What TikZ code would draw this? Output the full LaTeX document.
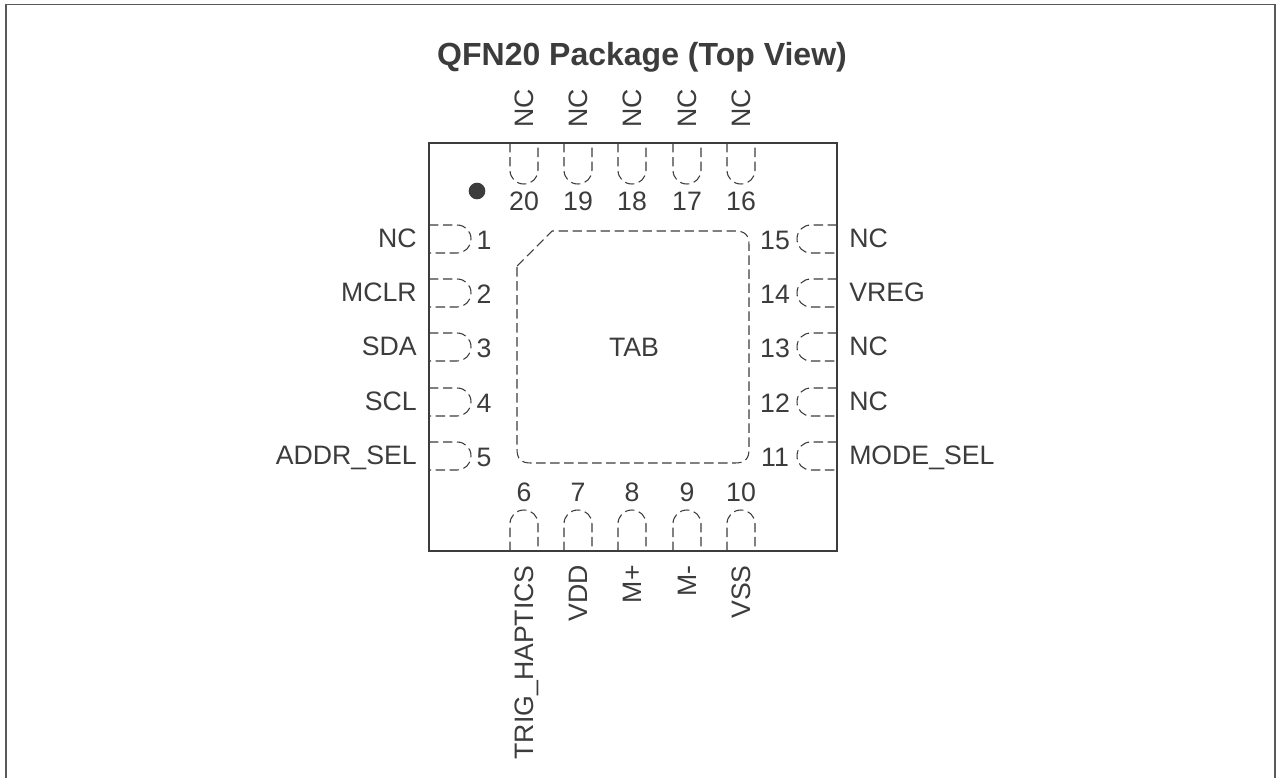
\documentclass[tikz,border=0pt]{standalone}
\usepackage{fontspec}
\setmainfont{Liberation Sans}
\definecolor{ink}{HTML}{3C3C3C}
\tikzset{
  lbl/.style={text=ink,font=\fontsize{20}{24}\selectfont,inner sep=0pt,text height=14.3pt,text depth=0pt},
  pad/.style={draw=ink,line width=0.8pt,dash pattern=on 7pt off 3.5pt},
  solidline/.style={draw=ink,line width=0.85pt}
}
\begin{document}
\begin{tikzpicture}[x=0.75pt,y=-0.75pt]
\useasboundingbox (0,0) rectangle (1276,778);
\draw[solidline,line width=1.1pt,draw=ink!85] (6,778) -- (6,4.5) -- (1275,4.5) -- (1275,778);
\node[lbl,font=\fontsize{24}{28}\selectfont\bfseries,text height=17.2pt] (title) at (642,54) {QFN20 Package (Top View)};
\node[solidline,minimum width=306pt,minimum height=306pt,inner sep=0pt] (chip) at (633,347) {};
\node[circle,fill=ink,minimum size=12.5pt,inner sep=0pt] (dot) at (477,191) {};
\node[lbl] (tab) at (634,347) {TAB};
\draw[pad] (517,266) -- (552,231) -- (735,231) .. controls (745,231) and (749,235) .. (749,245) -- (749,449) .. controls (749,459) and (745,463) .. (735,463) -- (531,463) .. controls (521,463) and (517,459) .. (517,449) -- cycle;
% top pads
\foreach \x/\n in {524/20,578/19,632/18,687/17,741/16}{
  \draw[pad] (\x-14,143) -- (\x-14,170) .. controls (\x-14,178) and (\x-8,184) .. (\x,184) .. controls (\x+8,184) and (\x+14,178) .. (\x+14,170) -- (\x+14,143);
  \node[lbl] (n\n) at (\x,201) {\n};
  \node[lbl,rotate=90,anchor=west] (l\n) at (\x,128) {NC};
}
% bottom pads
\foreach \x/\n/\t in {524/6/TRIG\_HAPTICS,578/7/VDD,632/8/M+,687/9/M-,741/10/VSS}{
  \draw[pad] (\x-14,551) -- (\x-14,524) .. controls (\x-14,516) and (\x-8,510) .. (\x,510) .. controls (\x+8,510) and (\x+14,516) .. (\x+14,524) -- (\x+14,551);
  \node[lbl] (n\n) at (\x,492) {\n};
  \node[lbl,rotate=90,anchor=east] (l\n) at (\x,565) {\t};
}
% left pads
\foreach \y/\n/\t in {239/1/NC,293/2/MCLR,347/3/SDA,402/4/SCL,456/5/ADDR\_SEL}{
  \draw[pad] (429,\y-14) -- (457,\y-14) .. controls (465,\y-14) and (471,\y-8) .. (471,\y) .. controls (471,\y+8) and (465,\y+14) .. (457,\y+14) -- (429,\y+14);
  \node[lbl] (n\n) at (484,\y+1) {\n};
  \node[lbl,anchor=east] (l\n) at (417,\y-1) {\t};
}
% right pads
\foreach \y/\n/\t in {239/15/NC,293/14/VREG,347/13/NC,402/12/NC,456/11/MODE\_SEL}{
  \draw[pad] (837,\y-14) -- (811,\y-14) .. controls (803,\y-14) and (797,\y-8) .. (797,\y) .. controls (797,\y+8) and (803,\y+14) .. (811,\y+14) -- (837,\y+14);
  \node[lbl] (n\n) at (775,\y+1) {\n};
  \node[lbl,anchor=west] (l\n) at (849,\y-1) {\t};
}
\end{tikzpicture}
\end{document}
